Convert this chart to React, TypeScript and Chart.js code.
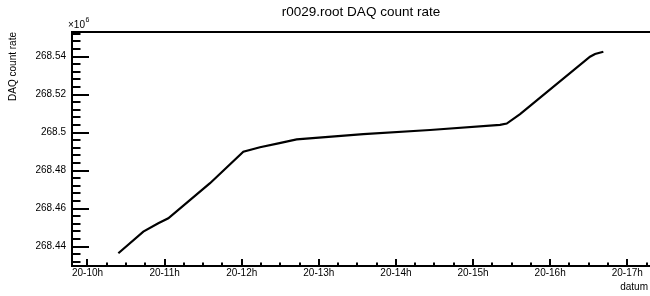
import React, { useEffect, useRef } from "react";
import { Chart, registerables } from "chart.js";
Chart.register(...registerables);

// time in hours of day 20, rate in units of 1e6 counts
const hours = [10.4, 10.724, 10.918, 11.048, 11.589, 12.021, 12.237, 12.475, 12.713, 13.577, 14.442, 15.35, 15.437, 15.61, 16.517, 16.582, 16.69];
const rate = [268.4365, 268.4479, 268.4523, 268.4549, 268.4734, 268.49, 268.4923, 268.4944, 268.4965, 268.4992, 268.5014, 268.5041, 268.5048, 268.5098, 268.54, 268.5414, 268.5426];

const xTickHours = [10, 11, 12, 13, 14, 15, 16, 17];
const xTickLabels = ["20-10h", "20-11h", "20-12h", "20-13h", "20-14h", "20-15h", "20-16h", "20-17h"];
const yTickValues = [268.44, 268.46, 268.48, 268.5, 268.52, 268.54];
const yTickLabels = ["268.44", "268.46", "268.48", "268.5", "268.52", "268.54"];

const xMin = 9.799;
const xMax = 17.295;
const yMin = 268.4298;
const yMax = 268.553;

const titleText = "r0029.root DAQ count rate";
const yTitleText = "DAQ count rate";
const xTitleText = "datum";
const FONT = "'Liberation Sans', Arial, Helvetica, sans-serif";

const rootPlugin = {
  id: "rootStyle",
  afterDraw(chart: any) {
    const { ctx, chartArea: a, scales } = chart;
    const xs = scales.x;
    const ys = scales.y;
    ctx.save();
    ctx.strokeStyle = "#000";
    ctx.fillStyle = "#000";
    ctx.lineWidth = 2;
    ctx.lineCap = "butt";
    // frame: left, bottom, top
    ctx.beginPath();
    ctx.moveTo(a.left, a.top - 1);
    ctx.lineTo(a.left, a.bottom + 1);
    ctx.moveTo(a.left - 1, a.bottom);
    ctx.lineTo(a.right, a.bottom);
    ctx.moveTo(a.left - 1, a.top);
    ctx.lineTo(a.right, a.top);
    ctx.stroke();

    // y ticks (inside)
    ctx.lineWidth = 2;
    ctx.beginPath();
    const yStep = 0.004;
    const ys0 = Math.ceil(yMin / yStep - 1e-6);
    const ys1 = Math.floor(yMax / yStep + 1e-6);
    for (let k = ys0; k <= ys1; k++) {
      const v = k * yStep;
      const isMajor = Math.abs(Math.round(v / 0.02) * 0.02 - v) < 1e-6;
      const py = Math.round(ys.getPixelForValue(v));
      if (py >= a.bottom - 1) continue;
      const len = isMajor ? 17 : 8.5;
      ctx.moveTo(a.left, py);
      ctx.lineTo(a.left + len, py);
    }
    // x ticks (inside)
    const xStep = 0.25;
    const xs0 = Math.ceil(xMin / xStep);
    const xs1 = Math.floor(xMax / xStep);
    for (let k = xs0; k <= xs1; k++) {
      const v = k * xStep;
      const isMajor = k % 4 === 0;
      const px = Math.round(xs.getPixelForValue(v));
      const len = isMajor ? 7 : 3.5;
      ctx.moveTo(px, a.bottom);
      ctx.lineTo(px, a.bottom - len);
    }
    ctx.stroke();

    // title
    ctx.font = `13.5px ${FONT}`;
    ctx.textAlign = "center";
    ctx.textBaseline = "middle";
    ctx.fillText(titleText, (a.left + a.right) / 2, 12.5);

    // x title
    ctx.font = `10px ${FONT}`;
    ctx.textAlign = "right";
    ctx.fillText(xTitleText, 648, 287);

    // y title
    ctx.save();
    ctx.translate(13.5, a.top);
    ctx.rotate(-Math.PI / 2);
    ctx.textAlign = "right";
    ctx.textBaseline = "middle";
    ctx.fillText(yTitleText, 0, 0);
    ctx.restore();

    // x10^6
    ctx.font = `10px ${FONT}`;
    ctx.textAlign = "left";
    ctx.textBaseline = "alphabetic";
    ctx.fillText("\u00d710", 68, 28);
    ctx.font = `7px ${FONT}`;
    ctx.fillText("6", 85.5, 22);
    ctx.restore();
  },
};

export default function App() {
  const ref = useRef<HTMLCanvasElement | null>(null);
  useEffect(() => {
    document.body.style.margin = "0";
    const canvas = ref.current;
    if (!canvas) return;
    const chart = new Chart(canvas, {
      type: "line",
      data: {
        datasets: [
          {
            data: hours.map((h, i) => ({ x: h, y: rate[i] })),
            borderColor: "#000",
            borderWidth: 2.2,
            pointRadius: 0,
            tension: 0,
            fill: false,
          },
        ],
      },
      options: {
        responsive: false,
        animation: false,
        devicePixelRatio: 1,
        layout: { padding: { top: 32, right: 0, left: 0, bottom: 0 } },
        plugins: { legend: { display: false }, title: { display: false }, tooltip: { enabled: false } },
        scales: {
          x: {
            type: "linear",
            min: xMin,
            max: xMax,
            grid: { display: false, drawTicks: false },
            border: { display: false },
            afterBuildTicks: (s: any) => {
              s.ticks = xTickHours.map((v) => ({ value: v }));
            },
            afterFit: (s: any) => {
              s.height = 30;
            },
            ticks: {
              autoSkip: false,
              maxRotation: 0,
              minRotation: 0,
              padding: 1,
              color: "#000",
              font: { family: FONT, size: 10 },
              callback: (v: any) => xTickLabels[xTickHours.indexOf(Number(v))] ?? "",
            },
          },
          y: {
            type: "linear",
            min: yMin,
            max: yMax,
            grid: { display: false, drawTicks: false },
            border: { display: false },
            afterBuildTicks: (s: any) => {
              s.ticks = yTickValues.map((v) => ({ value: v }));
            },
            afterFit: (s: any) => {
              s.width = 72;
            },
            ticks: {
              autoSkip: false,
              padding: 6,
              color: "#000",
              font: { family: FONT, size: 10 },
              callback: (v: any) => {
                const i = yTickValues.findIndex((t) => Math.abs(t - Number(v)) < 1e-9);
                return i >= 0 ? yTickLabels[i] : "";
              },
            },
          },
        },
      },
      plugins: [rootPlugin],
    });
    return () => chart.destroy();
  }, []);
  return (
    <div style={{ width: 650, height: 296, background: "#fff" }}>
      <canvas ref={ref} width={650} height={296} style={{ display: "block" }} />
    </div>
  );
}
